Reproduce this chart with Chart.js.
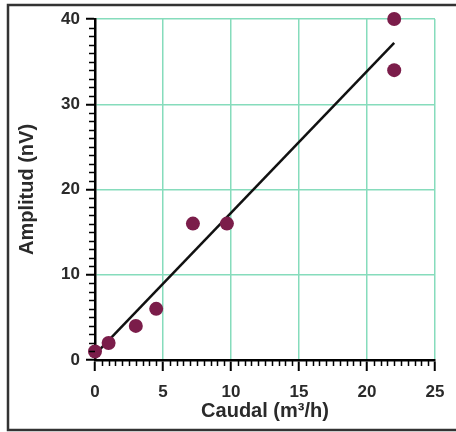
<!DOCTYPE html>
<html>
<head>
<meta charset="utf-8">
<script src="https://cdn.jsdelivr.net/npm/chart.js@4/dist/chart.umd.min.js"></script>
<style>
  body { margin: 0; background: #fff; }
  #wrap { width: 456px; height: 432px; position: relative; }
</style>
</head>
<body>
<div id="wrap"><canvas id="chart"></canvas></div>
<script>
// Data
const caudal = [0, 1, 3, 4.5, 7.2, 9.7, 22, 22];
const amplitud = [1, 2, 4, 6, 16, 16, 40, 34];
// fitted line end points
const fitX = [0.4, 22];
const fitY = [1.3, 37.2];

const xTitle = 'Caudal (m³/h)';
const yTitle = 'Amplitud (nV)';

const gridColor = '#86dcbc';
const dotColor = '#7b1d4a';
const textColor = '#2a2a2a';

// minor tick marks on both axes
const minorTicks = {
    id: 'minorTicks',
    afterDatasetsDraw(chart) {
        const ctx = chart.ctx;
        const x = chart.scales.x;
        const y = chart.scales.y;
        ctx.save();
        ctx.strokeStyle = '#000';
        ctx.lineWidth = 1.5;
        ctx.beginPath();
        for (let v = 0; v <= 25; v += 0.5) {
            if (v % 5 === 0) continue;
            const px = Math.round(x.getPixelForValue(v)) + 0.5;
            ctx.moveTo(px, y.bottom);
            ctx.lineTo(px, y.bottom + 6);
        }
        for (let v = 0; v <= 40; v += 1) {
            if (v % 10 === 0) continue;
            const py = Math.round(y.getPixelForValue(v)) + 0.5;
            ctx.moveTo(x.left, py);
            ctx.lineTo(x.left - 6, py);
        }
        ctx.stroke();
        ctx.restore();
    }
};

// dark frame round the picture
const frame = {
    id: 'frame',
    beforeDraw(chart) {
        const ctx = chart.ctx;
        ctx.save();
        ctx.fillStyle = '#fff';
        ctx.fillRect(0, 0, chart.width, chart.height);
        ctx.strokeStyle = '#333';
        ctx.lineWidth = 2.5;
        ctx.strokeRect(8, 5, 470, 425);
        ctx.restore();
    }
};

const tickFont = { family: 'Liberation Sans', size: 17, weight: 'bold' };
const titleFont = { family: 'Liberation Sans', size: 20, weight: 'bold' };

new Chart(document.getElementById('chart'), {
    type: 'scatter',
    data: {
        datasets: [{
            type: 'scatter',
            data: caudal.map((c, i) => ({ x: c, y: amplitud[i] })),
            backgroundColor: dotColor,
            borderColor: dotColor,
            pointRadius: 7,
            borderWidth: 0,
            clip: false,
            order: 1
        }, {
            type: 'line',
            data: fitX.map((c, i) => ({ x: c, y: fitY[i] })),
            borderColor: '#111',
            borderWidth: 2.5,
            pointRadius: 0,
            fill: false,
            order: 2
        }]
    },
    options: {
        responsive: true,
        maintainAspectRatio: false,
        animation: false,
        layout: { padding: { left: 0, top: 19, right: 21, bottom: 0 } },
        plugins: {
            legend: { display: false },
            tooltip: { enabled: false }
        },
        scales: {
            x: {
                type: 'linear',
                min: 0,
                max: 25,
                afterFit: (s) => { s.height = 72; },
                ticks: { stepSize: 5, color: textColor, font: tickFont, padding: 11 },
                grid: {
                    color: gridColor,
                    lineWidth: 1.5,
                    tickColor: '#000',
                    tickLength: 11,
                    tickWidth: 2
                },
                border: { color: '#000', width: 2.5 },
                title: { display: true, text: xTitle, color: textColor, font: titleFont, padding: { top: 0, bottom: 9 } }
            },
            y: {
                type: 'linear',
                min: 0,
                max: 40,
                afterFit: (s) => { s.width = 95; },
                ticks: { stepSize: 10, color: textColor, font: tickFont, padding: 6 },
                grid: {
                    color: gridColor,
                    lineWidth: 1.5,
                    tickColor: '#000',
                    tickLength: 9,
                    tickWidth: 2
                },
                border: { color: '#000', width: 2.5 },
                title: { display: true, text: yTitle, color: textColor, font: titleFont, padding: { top: 15, bottom: 0 } }
            }
        }
    },
    plugins: [frame, minorTicks]
});
</script>
</body>
</html>
